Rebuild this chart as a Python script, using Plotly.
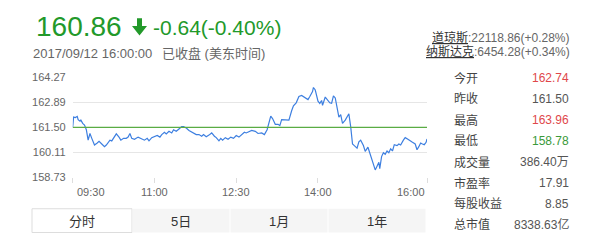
import plotly.graph_objects as go

# ---------------- data ----------------
minutes = [0, 1, 3, 5, 6, 8, 9, 11, 13, 15, 17, 19, 21, 24, 27, 29, 32, 35, 37, 41,
           43, 46, 48, 51, 53, 56, 59, 61, 63, 65, 68, 72, 76, 79, 82, 84, 87, 90, 93, 96,
           98, 101, 103, 106, 109, 111, 114, 117, 120, 122, 125, 128, 131, 134, 136, 139, 142, 144, 147, 150,
           153, 156, 158, 161, 163, 165, 168, 171, 174, 177, 180, 183, 186, 189, 191, 195, 197, 201, 204, 208,
           211, 214, 218, 220, 223, 226, 228, 230, 233, 236, 238, 241, 243, 246, 249, 252, 254, 257, 259, 261,
           264, 265, 267, 270, 272, 274, 275, 278, 281, 283, 285, 287, 289, 291, 293, 295, 297, 300, 303, 304,
           306, 308, 310, 313, 315, 317, 320, 322, 325, 327, 329, 331, 333, 335, 337, 338, 340, 342, 344, 346,
           348, 350, 352, 354, 357, 359, 361, 364, 366, 369, 371, 374, 377, 379, 381, 383, 385, 387, 389, 390]
prices = [161.50, 162.07, 162.04, 162.11, 161.93, 161.84, 161.90, 161.72, 161.63, 161.37,
          160.79, 161.16, 160.89, 160.52, 160.63, 160.72, 160.58, 160.43, 160.52, 160.79,
          160.75, 160.96, 161.14, 160.96, 160.79, 160.89, 160.89, 160.96, 161.16, 160.89,
          160.84, 160.96, 160.84, 160.79, 160.89, 160.75, 160.93, 160.98, 161.05, 160.96,
          161.10, 161.23, 161.14, 161.28, 161.19, 161.37, 161.28, 161.41, 161.54, 161.54,
          161.46, 161.33, 161.25, 161.16, 161.10, 161.10, 161.01, 161.10, 160.98, 161.07,
          161.19, 161.01, 160.93, 160.75, 160.89, 160.79, 160.93, 160.84, 160.96, 160.89,
          161.05, 160.96, 161.10, 161.23, 161.19, 161.28, 161.33, 161.28, 161.16, 161.19,
          161.10, 161.37, 162.12, 161.99, 161.67, 161.67, 161.60, 161.93, 161.93, 161.93,
          161.90, 162.42, 162.69, 162.86, 163.21, 163.27, 163.21, 163.13, 163.04, 163.21,
          163.48, 163.71, 163.57, 162.95, 162.83, 162.99, 162.72, 163.18, 163.00, 162.86,
          162.83, 163.25, 163.13, 162.60, 162.07, 162.20, 161.72, 161.90, 162.20, 162.25,
          161.54, 160.58, 160.49, 160.35, 160.70, 160.79, 160.49, 160.17, 160.40, 160.05,
          159.79, 159.43, 159.14, 159.35, 159.56, 159.21, 159.88, 160.09, 160.01, 160.19,
          160.09, 160.31, 160.19, 160.54, 160.49, 160.58, 160.52, 160.79, 160.93, 160.84,
          160.79, 160.67, 160.58, 160.26, 160.43, 160.63, 160.58, 160.54, 160.67, 160.86]

prev_close = 161.50
y_ticks = [158.73, 160.11, 161.50, 162.89, 164.27]
x_tick_minutes = [0, 90, 180, 270, 390]
x_tick_labels = ["09:30", "11:00", "12:30", "14:00", "16:00"]

last_price = "160.86"
change_text = "-0.64(-0.40%)"
time_text = "2017/09/12 16:00:00"
status_text = "已收盘 (美东时间)"
index_names = ["道琼斯", "纳斯达克"]
index_values = [":22118.86(+0.28%)", ":6454.28(+0.34%)"]

stat_labels = ["今开", "昨收", "最高", "最低", "成交量", "市盈率", "每股收益", "总市值"]
stat_values = ["162.74", "161.50", "163.96", "158.78", "386.40万", "17.91", "8.85", "8338.63亿"]
stat_colors = ["#e0474a", "#555555", "#e0474a", "#3a9a3a", "#555555", "#555555", "#555555", "#555555"]

tabs = ["分时", "5日", "1月", "1年"]

# ---------------- layout helpers ----------------
W, H = 605, 249
FONT = "Liberation Sans, Arial, Noto Sans CJK SC, sans-serif"


def px(x):
    return x / W


def py(y):
    return 1 - y / H


GREEN = "#22992a"
GRAY = "#666666"

fig = go.Figure()
fig.add_trace(go.Scatter(x=minutes, y=prices, mode="lines",
                         line=dict(color="#3d7fe0", width=1.2), hoverinfo="skip",
                         showlegend=False))

shapes = []
annotations = []

# previous close line
shapes.append(dict(type="line", xref="x", yref="y", x0=0, x1=390, y0=prev_close, y1=prev_close,
                   line=dict(color="#5aac44", width=1.2), layer="above"))

# header
annotations.append(dict(xref="paper", yref="paper", x=px(34), y=py(22), xanchor="left", yanchor="middle",
                        text=last_price, showarrow=False, font=dict(family=FONT, size=28, color=GREEN)))
# arrow glyph drawn as path
ax0, ay0 = 131, 13
arrow = (f"M {px(ax0+6)} {py(ay0)} L {px(ax0+11)} {py(ay0)} L {px(ax0+11)} {py(ay0+8)} "
         f"L {px(ax0+16)} {py(ay0+8)} L {px(ax0+8.5)} {py(ay0+18)} L {px(ax0+1)} {py(ay0+8)} "
         f"L {px(ax0+6)} {py(ay0+8)} Z")
shapes.append(dict(type="path", xref="paper", yref="paper", path=arrow,
                   fillcolor=GREEN, line=dict(width=0)))
annotations.append(dict(xref="paper", yref="paper", x=px(151), y=py(23), xanchor="left", yanchor="middle",
                        text=change_text, showarrow=False, font=dict(family=FONT, size=21, color=GREEN)))
annotations.append(dict(xref="paper", yref="paper", x=px(31), y=py(50), xanchor="left", yanchor="middle",
                        text=time_text, showarrow=False, font=dict(family=FONT, size=13, color=GRAY)))
annotations.append(dict(xref="paper", yref="paper", x=px(160), y=py(50), xanchor="left", yanchor="middle",
                        text=status_text, showarrow=False, font=dict(family=FONT, size=13, color=GRAY)))

for i, (n, v) in enumerate(zip(index_names, index_values)):
    annotations.append(dict(xref="paper", yref="paper", x=px(572), y=py(33 + 15 * i),
                            xanchor="right", yanchor="middle", showarrow=False,
                            text=f"<span style='text-decoration:underline;color:#333333'>{n}</span>{v}",
                            font=dict(family=FONT, size=12, color=GRAY)))

# stats panel
for i, (lab, val, col) in enumerate(zip(stat_labels, stat_values, stat_colors)):
    yy = 76 + 22 * i
    annotations.append(dict(xref="paper", yref="paper", x=px(452), y=py(yy), xanchor="left", yanchor="middle",
                            text=lab, showarrow=False, font=dict(family=FONT, size=12, color="#444444")))
    annotations.append(dict(xref="paper", yref="paper", x=px(571), y=py(yy), xanchor="right", yanchor="middle",
                            text=val, showarrow=False, font=dict(family=FONT, size=12, color=col)))

# x tick labels
for m, lab in zip(x_tick_minutes, x_tick_labels):
    anchor = "left" if m == x_tick_minutes[0] else ("right" if m == x_tick_minutes[-1] else "center")
    shift = 2 if anchor == "left" else 0
    annotations.append(dict(xref="x", yref="paper", x=m, y=py(195), xanchor=anchor, yanchor="middle",
                            xshift=shift, text=lab, showarrow=False,
                            font=dict(family=FONT, size=11, color=GRAY)))

# tabs
tab_edges = [32, 132, 230, 328, 426]
for i, t in enumerate(tabs):
    x0, x1 = tab_edges[i], tab_edges[i + 1]
    if i == 0:
        shapes.append(dict(type="rect", xref="paper", yref="paper", x0=px(x0), x1=px(x1),
                           y0=py(238), y1=py(213), fillcolor="#ffffff", line=dict(color="#dddddd", width=1)))
    else:
        shapes.append(dict(type="rect", xref="paper", yref="paper", x0=px(x0 + 0.5), x1=px(x1 - 0.5),
                           y0=py(238), y1=py(213), fillcolor="#f5f5f5", line=dict(width=0)))
    annotations.append(dict(xref="paper", yref="paper", x=px((x0 + x1) / 2), y=py(226),
                            xanchor="center", yanchor="middle", text=t, showarrow=False,
                            font=dict(family=FONT, size=13, color="#333333")))

fig.update_layout(
    width=W, height=H,
    margin=dict(l=0, r=0, t=0, b=0),
    paper_bgcolor="white", plot_bgcolor="white",
    showlegend=False,
    shapes=shapes, annotations=annotations,
    xaxis=dict(domain=[px(72.7), px(427)], range=[0, 390], showgrid=False, zeroline=False,
               tickvals=x_tick_minutes, ticks="outside", ticklen=5, tickcolor="#dddddd",
               showticklabels=False, showline=False, fixedrange=True),
    yaxis=dict(domain=[py(180), py(75)], range=[y_ticks[0], y_ticks[-1]], tickvals=y_ticks,
               ticktext=[f"{v:.2f}" for v in y_ticks], showgrid=True, gridcolor="#e6e6e6",
               gridwidth=1, zeroline=False, ticks="", ticklabelstandoff=6,
               tickfont=dict(family=FONT, size=11, color=GRAY), fixedrange=True),
)

fig.write_html("out.html")
